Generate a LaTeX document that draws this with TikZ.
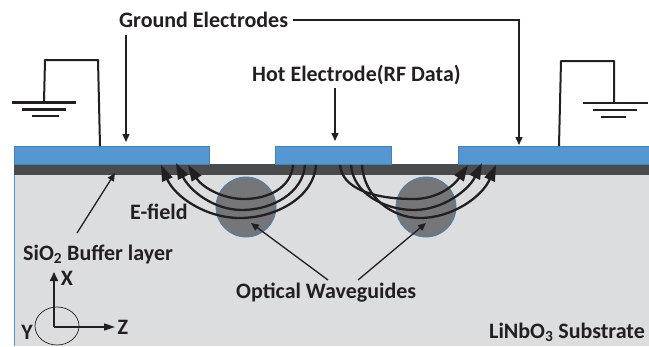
\documentclass[tikz,border=0pt]{standalone}
\usepackage{fontspec}
\setmainfont{Carlito}
\usetikzlibrary{arrows.meta}
\definecolor{subst}{HTML}{DCDDDF}
\definecolor{oxide}{HTML}{4A4B4D}
\definecolor{metal}{HTML}{5597D2}
\definecolor{guide}{HTML}{757679}
\definecolor{ink}{HTML}{231F20}
\tikzset{
  x=1pt,y=-1pt,
  lbl/.style={font=\fontsize{22}{24}\selectfont\bfseries,text=ink,inner sep=0pt},
  wire/.style={draw=ink,line width=2pt},
  bar/.style={draw=ink,line width=2.5pt},
  thin arrow/.style={draw=ink,line width=1.3pt,-{Triangle[length=8pt,width=7pt]}},
  field/.style={draw=ink,line width=2.3pt,-{Triangle[length=16pt,width=11pt]}},
  electrode/.style={fill=metal,draw=metal!85!black,line width=.4pt},
  wg/.style={circle,fill=guide,draw=metal!85!black,line width=.8pt,minimum size=60pt,inner sep=0pt},
}
\begin{document}
\begin{tikzpicture}
\useasboundingbox (0,0) rectangle (649,346);
% substrate and layers
\fill[subst] (14,175) rectangle (649,346);
\draw[metal,line width=.8pt] (14,175) -- (14,346);
\fill[oxide] (14,164) rectangle (649,175);
\draw[electrode] (14,146) rectangle (209,164);
\draw[electrode] (275,146) rectangle (391,164);
\draw[electrode] (458,146) rectangle (649,164);
\coordinate (gndL) at (126,146);
\coordinate (hotE) at (335,146);
\coordinate (gndR) at (519,146);
% waveguides
\node[wg] (wgL) at (246,207) {};
\node[wg] (wgR) at (426,207) {};
% field lines, left
\draw[field] (293,165) .. controls (291,188) and (268,199) .. (244,199) .. controls (222,199) and (202,187) .. (188,165);
\draw[field] (305,165) .. controls (303,193) and (272,210) .. (242,210) .. controls (214,210) and (190,191) .. (176,163);
\draw[field] (316,165) .. controls (314,197) and (276,218) .. (240,218) .. controls (206,218) and (175,197) .. (161,165);
% field lines, right
\draw[field] (340,165) .. controls (342,188) and (372,199) .. (414,199) .. controls (436,199) and (453,187) .. (468,165);
\draw[field] (351,165) .. controls (353,193) and (384,210) .. (414,210) .. controls (442,210) and (468,191) .. (482,163);
\draw[field] (362,165) .. controls (364,197) and (392,218) .. (420,218) .. controls (452,218) and (482,197) .. (496,165);
% grounds
\coordinate (gl0) at (100,146);
\coordinate (gl1) at (98,60);
\coordinate (gl2) at (45,60);
\coordinate (gl3) at (44,102);
\draw[wire,line join=round] (gl0) -- (gl1) -- (gl2) -- (gl3);
\draw[bar] (12,102.5) -- (76,102.5);
\draw[bar] (22,109.5) -- (66,109.5);
\draw[bar] (32,116) -- (59,116);
\coordinate (gr0) at (559,146);
\coordinate (gr1) at (561,61);
\coordinate (gr2) at (614,61);
\coordinate (gr3) at (614,103);
\draw[wire,line join=round] (gr0) -- (gr1) -- (gr2) -- (gr3);
\draw[bar] (583,103) -- (648,103);
\draw[bar] (593,110) -- (637,110);
\draw[bar] (601,117) -- (626,117);
% labels
\node[lbl,anchor=west] (tG) at (119,20) {Ground Electrodes};
\node[lbl,anchor=west] (tH) at (252,75) {Hot Electrode(RF Data)};
\node[lbl,anchor=west] (tE) at (130,212) {E-field};
\node[lbl,anchor=west] (tS) at (23,254) {SiO\textsubscript{2} Buffer layer};
\node[lbl,anchor=west] (tO) at (236,293) {Optical Waveguides};
\node[lbl,anchor=west] (tL) at (489,332) {LiNbO\textsubscript{3} Substrate};
% callouts
\coordinate (gTop) at (126,35);
\draw[thin arrow] (gTop) -- ([yshift=4pt]gndL);
\coordinate (g1) at (293,20);
\coordinate (g2) at (519,20);
\draw[thin arrow] (g1) -- (g2) -- ([yshift=1pt]gndR);
\coordinate (hTop) at (335,88);
\draw[thin arrow] (hTop) -- ([yshift=5pt]hotE);
\coordinate (sioS) at (77,233);
\coordinate (sioT) at (115,173);
\draw[thin arrow] (sioS) -- (sioT);
\coordinate (wS1) at (328,280);
\coordinate (wT1) at (251,223);
\coordinate (wS2) at (358,280);
\coordinate (wT2) at (426,223);
\draw[thin arrow] (wS1) -- (wT1);
\draw[thin arrow] (wS2) -- (wT2);
% axes
\coordinate (org) at (54,327);
\coordinate (xT) at (54,272);
\coordinate (zT) at (115,327);
\draw[draw=ink,line width=.7pt] (57,326) ellipse [x radius=22,y radius=19];
\draw[draw=ink,line width=1.6pt,-{Triangle[length=9pt,width=8pt]}] (org) -- (xT);
\draw[draw=ink,line width=1.6pt,-{Triangle[length=11pt,width=7pt]}] (org) -- (zT);
\node[lbl] (tX) at (67,278) {X};
\node[lbl] (tZ) at (123,327) {Z};
\node[lbl] (tY) at (27,332) {Y};
\end{tikzpicture}
\end{document}
